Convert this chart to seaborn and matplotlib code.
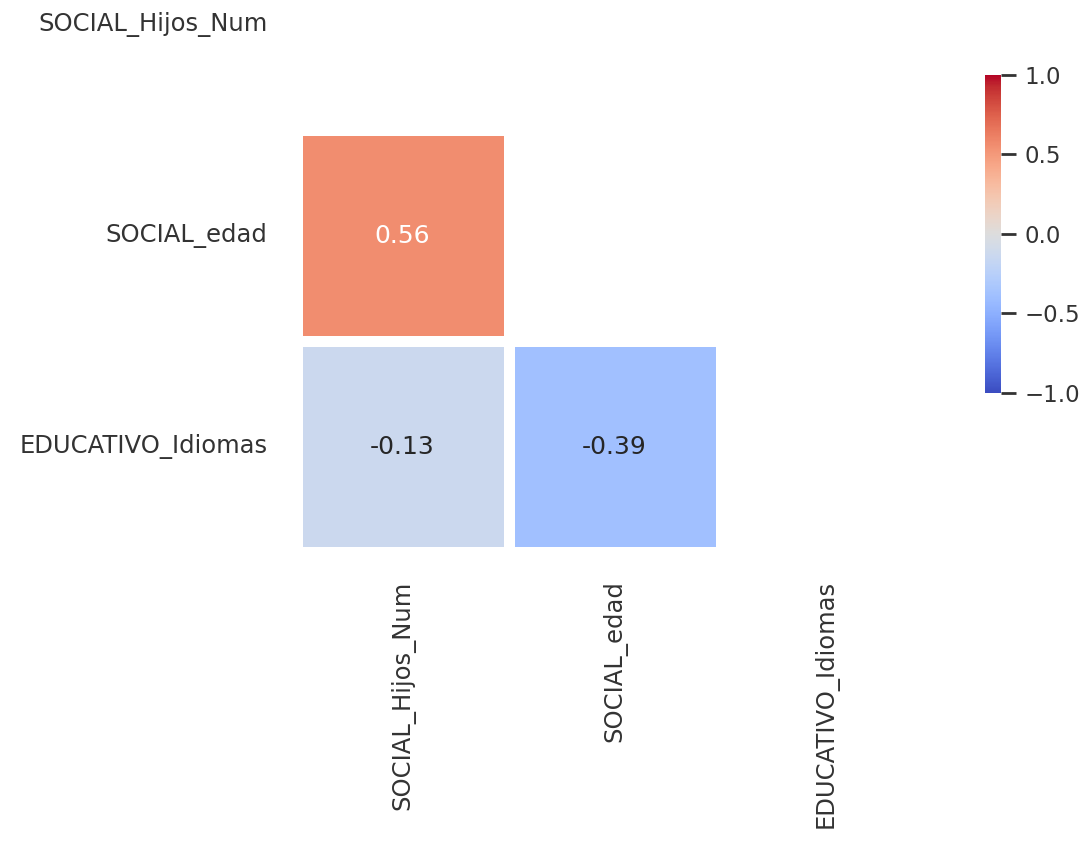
import numpy as np
import pandas as pd
import matplotlib
matplotlib.use("Agg")
import matplotlib.pyplot as plt
import seaborn as sns

# Variables and their pairwise correlations
variables = ["SOCIAL_Hijos_Num", "SOCIAL_edad", "EDUCATIVO_Idiomas"]
corr_edad_hijos = 0.56
corr_idiomas_hijos = -0.13
corr_idiomas_edad = -0.39
cbar_ticks = [-1.0, -0.5, 0.0, 0.5, 1.0]

corr = pd.DataFrame(
    [[1.0, corr_edad_hijos, corr_idiomas_hijos],
     [corr_edad_hijos, 1.0, corr_idiomas_edad],
     [corr_idiomas_hijos, corr_idiomas_edad, 1.0]],
    index=variables, columns=variables,
)
# hide the diagonal and the upper triangle
mask = np.triu(np.ones_like(corr, dtype=bool))

sns.set_theme(style="white")
plt.rcParams["font.family"] = ["DejaVu Sans"]

fig = plt.figure(figsize=(10.91, 8.44), dpi=100)
ax = fig.add_axes([0.2718, 0.3454, 0.583, 0.75])
cax = fig.add_axes([0.9028, 0.5344, 0.0147, 0.3768])

sns.heatmap(
    corr, mask=mask, cmap="coolwarm", vmin=-1, vmax=1, center=0,
    annot=True, fmt=".2f", annot_kws={"size": 18},
    linewidths=6.5, linecolor="white",
    ax=ax, cbar_ax=cax,
)
ax.tick_params(axis="both", length=0, labelsize=17.5, colors="#333333")
ax.tick_params(axis="y", pad=21)
ax.tick_params(axis="x", pad=20)
ax.set_xticklabels(variables, rotation=90)
ax.set_yticklabels(variables, rotation=0)
ax.set_xlabel("")
ax.set_ylabel("")

cax.set_yticks(cbar_ticks)
cax.tick_params(labelsize=16.5, length=11, width=2, pad=6, right=True,
                colors="#333333")

fig.savefig("out.png", dpi=100)
